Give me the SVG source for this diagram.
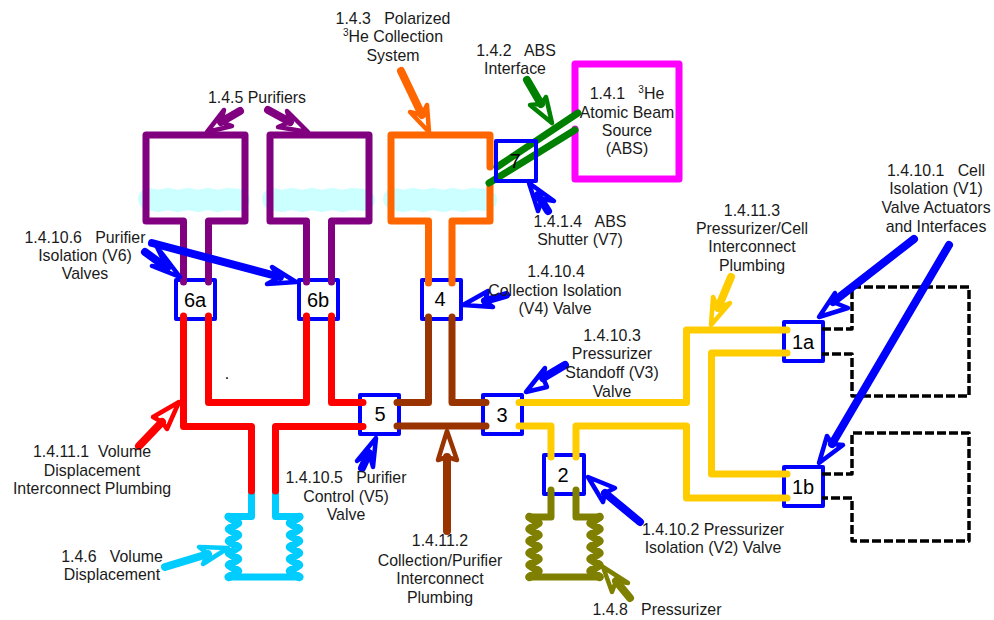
<svg xmlns="http://www.w3.org/2000/svg" width="994" height="620" viewBox="0 0 994 620">
<style>
text{font-family:"Liberation Sans",Arial,sans-serif;font-size:15.9px;fill:#1a1a1a;text-anchor:middle;white-space:pre}
.vl{font-size:20px;fill:#000}
.sup{font-size:10px}
.v{fill:none;stroke:#0000ff;stroke-width:4;stroke-linejoin:round}
.p,.h,.s,.c{fill:none;stroke-linejoin:round;stroke-linecap:round}
.p{stroke-width:7}
.c{stroke-width:8.500}
.s{stroke-width:8}
.h{stroke-width:4.500}
.blob{fill:none;stroke:#ccffff;stroke-width:22;stroke-linecap:round;stroke-linejoin:round}
.dash{fill:none;stroke:#000;stroke-width:3.500;stroke-dasharray:9 3;stroke-linejoin:round}
.red{stroke:#ff0000}.brn{stroke:#993300}.yel{stroke:#ffcc00}.blu{stroke:#0000ff}.olv{stroke:#808000}.pur{stroke:#800080}.org{stroke:#ff6600}.grn{stroke:#008000}.cyn{stroke:#00ccff}.mag{stroke:#ff00ff}
</style>
<rect width="994" height="620" fill="#fff"/>
<g id="valve-6a"><rect class="v" x="176" y="280" width="39" height="39"/><text class="vl" x="195" y="307">6a</text></g>
<g id="valve-6b"><rect class="v" x="299" y="280" width="39" height="39"/><text class="vl" x="318" y="307">6b</text></g>
<g id="valve-4"><rect class="v" x="422" y="280" width="39" height="39"/><text class="vl" x="440" y="306">4</text></g>
<g id="valve-5"><rect class="v" x="360" y="395" width="39" height="39"/><text class="vl" x="380" y="421">5</text></g>
<g id="valve-3"><rect class="v" x="483" y="395" width="39" height="39"/><text class="vl" x="502" y="422">3</text></g>
<g id="valve-2"><rect class="v" x="544" y="455" width="40" height="39"/><text class="vl" x="563" y="482">2</text></g>
<g id="valve-1a"><rect class="v" x="784" y="322" width="39" height="39"/><text class="vl" x="803" y="349">1a</text></g>
<g id="valve-1b"><rect class="v" x="784" y="467" width="39" height="39"/><text class="vl" x="803" y="494">1b</text></g>
<g id="purifier-a"><path class="blob" d="M149 199L158 201L168 199L178 201L188 199L198 201L208 199L218 201L228 199L239 200"/><path class="p pur" d="M183.500 282V221H146V135H245V221H208.500V282"/></g>
<g id="purifier-b"><path class="blob" d="M273 199L282 201L292 199L302 201L312 199L322 201L332 199L342 201L352 199L364 200"/><path class="p pur" d="M306.500 282V221H270V135H369V221H331.500V282"/></g>
<g id="collection-system"><path class="blob" d="M394 199L403 201L413 199L423 201L433 199L443 201L453 199L463 201L473 199L486 200"/><path class="p org" d="M428.500 283V221H391V135H490V167M490 183V221H452V283"/></g>
<g id="abs-source"><path class="p mag" d="M575 113V64H679V179H575V129"/></g>
<g id="cell-a"><path class="dash" d="M822 329H852V287H969V396H852V354H822"/></g>
<g id="cell-b"><path class="dash" d="M822 474H852V433H969V541H852V498H822"/></g>
<g id="volume-displacement"><path class="p cyn" d="M251.500 491V516.500H228M275.500 491V516.500H300M228 577H300"/><path class="c cyn" d="M229 517L238 523L229 529L238 535L229 541L238 547L229 553L238 559L229 565L238 571L229 577M299 517L290 523L299 529L290 535L299 541L290 547L299 553L290 559L299 565L290 571L299 577"/></g>
<g id="pressurizer"><path class="p olv" d="M551 490V517H529M576 490V517H600M529 577H600"/><path class="c olv" d="M529.500 517L538.500 523L529.500 529L538.500 535L529.500 541L538.500 547L529.500 553L538.500 559L529.500 565L538.500 571L529.500 577M599.500 517L590.500 523L599.500 529L590.500 535L599.500 541L590.500 547L599.500 553L590.500 559L599.500 565L590.500 571L599.500 577"/></g>
<g id="connectors">
<path class="p red" d="M183.500 316V426.500H251.500V491M275.500 491V426.500H363M208.500 316V402.500H306.500V316M331.500 316V402.500H363"/>
<path class="p brn" d="M397 402.500H428.500V317M452 317V402.500H486M397 426H486"/>
<path class="p yel" d="M519 402.500H686.500V330H787M519 426H551V457M576 457V426H686.500V498H787M787 353H711.500V474H787"/>
<path class="p grn" d="M497 167L578 113M489 183L575 130"/>
<path class="s org" d="M401 71L422 115"/><path class="h org" d="M410 112L429 132L427 105L422 115Z"/>
<path class="s grn" d="M527 80L541 104"/><path class="h grn" d="M530 105L552 123L546 97L541 104Z"/>
<path class="s blu" d="M548 211L538 195"/><path class="h blu" d="M538 211L529 183L554 201L542 199Z"/>
<path class="s pur" d="M240 111L221 122"/><path class="h pur" d="M224 110L207 132L232 126L221 122Z"/>
<path class="s pur" d="M268 110L290 122"/><path class="h pur" d="M287 111L308 132L278 127L290 122Z"/>
<path class="s blu" d="M145 252L167 268"/><path class="h blu" d="M157 247L180 277L152 266L167 268Z"/>
<path class="s blu" d="M152 243L280 277"/><path class="h blu" d="M272 267L296 282L267 284L280 277Z"/>
<path class="s blu" d="M506 295L485 301"/><path class="h blu" d="M488 291L463 305L493 307L485 301Z"/>
<path class="s blu" d="M565 365L543 378"/><path class="h blu" d="M545 368L526 392L547 387L543 378Z"/>
<path class="s blu" d="M362 468L369 453"/><path class="h blu" d="M357 461L376 438L373 467L369 453Z"/>
<path class="s brn" d="M447 531V457"/><path class="h brn" d="M438 460L447 431L457 460L447 457Z"/>
<path class="s blu" d="M640 522L605 493"/><path class="h blu" d="M615 488L588 477L603 502L605 493Z"/>
<path class="s olv" d="M630 598L616 581"/><path class="h olv" d="M628 583L603 567L612 592L616 581Z"/>
<path class="s red" d="M139 446L162 422"/><path class="h red" d="M153 417L179 402L167 429L162 422Z"/>
<path class="s cyn" d="M165 567L208 554"/><path class="h cyn" d="M199 547L228 548L203 564L208 554Z"/>
<path class="s yel" d="M731 277L718 308"/><path class="h yel" d="M713 297L711 325L730 303L718 308Z"/>
<path class="s blu" d="M914 239L833 302"/><path class="h blu" d="M835 293L819 317L848 308L833 302Z"/>
<path class="s blu" d="M949 245L832 444"/><path class="h blu" d="M827 436L819 463L843 445L832 444Z"/>
</g>
<g id="valve-7"><rect class="v" x="496" y="141" width="40" height="40"/><text class="vl" x="515" y="168">7</text></g>
<g id="labels">
<text x="393" y="24">1.4.3   Polarized</text>
<text x="393" y="42"><tspan class="sup" dy="-6">3</tspan><tspan dy="6">He Collection</tspan></text>
<text x="393" y="61">System</text>
<text x="516" y="56">1.4.2   ABS</text>
<text x="515" y="74">Interface</text>
<text x="627" y="99">1.4.1   <tspan class="sup" dy="-6">3</tspan><tspan dy="6">He</tspan></text>
<text x="627" y="118">Atomic Beam</text>
<text x="627" y="136">Source</text>
<text x="627" y="154">(ABS)</text>
<text x="580" y="227">1.4.1.4   ABS</text>
<text x="580" y="245">Shutter (V7)</text>
<text x="257" y="103">1.4.5 Purifiers</text>
<text x="85" y="243">1.4.10.6   Purifier</text>
<text x="85" y="261">Isolation (V6)</text>
<text x="85" y="279">Valves</text>
<text x="556" y="277">1.4.10.4</text>
<text x="555" y="296">Collection Isolation</text>
<text x="555" y="314">(V4) Valve</text>
<text x="612" y="341">1.4.10.3</text>
<text x="612" y="359">Pressurizer</text>
<text x="612" y="378">Standoff (V3)</text>
<text x="612" y="397">Valve</text>
<text x="752" y="216">1.4.11.3</text>
<text x="752" y="234">Pressurizer/Cell</text>
<text x="752" y="252">Interconnect</text>
<text x="752" y="271">Plumbing</text>
<text x="936" y="176">1.4.10.1   Cell</text>
<text x="936" y="194">Isolation (V1)</text>
<text x="936" y="213">Valve Actuators</text>
<text x="936" y="232">and Interfaces</text>
<text x="713" y="535">1.4.10.2 Pressurizer</text>
<text x="713" y="553">Isolation (V2) Valve</text>
<text x="657" y="615">1.4.8   Pressurizer</text>
<text x="440" y="546">1.4.11.2</text>
<text x="440" y="566">Collection/Purifier</text>
<text x="440" y="584">Interconnect</text>
<text x="440" y="603">Plumbing</text>
<text x="346" y="483">1.4.10.5   Purifier</text>
<text x="346" y="502">Control (V5)</text>
<text x="346" y="520">Valve</text>
<text x="92" y="457">1.4.11.1  Volume</text>
<text x="92" y="476">Displacement</text>
<text x="92" y="494">Interconnect Plumbing</text>
<text x="112" y="562">1.4.6   Volume</text>
<text x="112" y="580">Displacement</text>
<text x="227" y="379" style="fill:#000">.</text>
</g>
</svg>
